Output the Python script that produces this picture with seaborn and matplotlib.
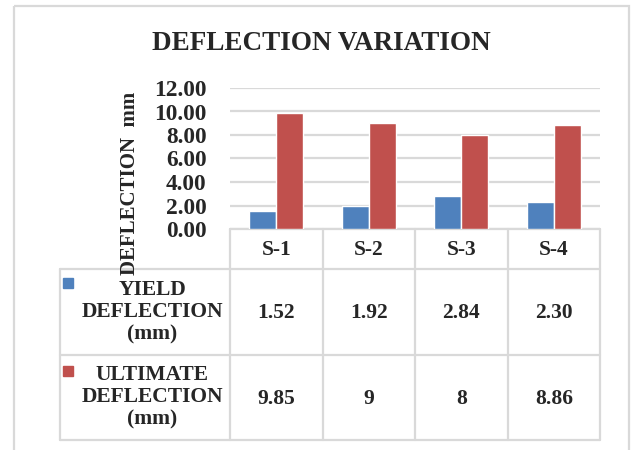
import numpy as np
import pandas as pd
import seaborn as sns
import matplotlib.pyplot as plt
from matplotlib.patches import Rectangle

specimens = ["S-1", "S-2", "S-3", "S-4"]
yield_defl = [1.52, 1.92, 2.84, 2.30]
ultimate_defl = [9.85, 9, 8, 8.86]
series_names = ["YIELD\nDEFLECTION\n(mm)", "ULTIMATE\nDEFLECTION\n(mm)"]
series_colors = ["#4F81BD", "#C0504D"]
yticks = [0, 2, 4, 6, 8, 10, 12]

df = pd.DataFrame({
    "specimen": specimens * 2,
    "series": [series_names[0]] * 4 + [series_names[1]] * 4,
    "value": yield_defl + ultimate_defl,
})

sns.set_style("white")
plt.rcParams["font.family"] = ["Liberation Serif", "DejaVu Serif"]
plt.rcParams["font.weight"] = "bold"

W, H = 632, 450
fig = plt.figure(figsize=(W / 100, H / 100), dpi=100)

# pixel layout
px0, px1 = 230, 600
py_top, py_axis = 88, 229
row_edges = [229, 269, 355, 440]
tab_left = 60
grid_c = "#D9D9D9"

ov = fig.add_axes([0, 0, 1, 1], zorder=0)
ov.set_xlim(0, W)
ov.set_ylim(H, 0)
ov.axis("off")

ax = fig.add_axes([px0 / W, (H - py_axis) / H, (px1 - px0) / W, (py_axis - py_top) / H], zorder=1)
ax.patch.set_visible(False)
sns.barplot(data=df, x="specimen", y="value", hue="series", palette=series_colors,
            width=0.58, gap=0, ax=ax, legend=False, saturation=1)
ax.set_ylim(0, 12)
ax.set_xlim(-0.5, 3.5)
ax.set_yticks(yticks)
ax.set_yticklabels([f"{t:.2f}" for t in yticks], fontsize=16.8, fontweight="bold")
ax.set_xticks([])
ax.set_xlabel("")
ax.set_ylabel("")
ax.tick_params(axis="y", length=0, pad=17)
ax.yaxis.grid(True, color=grid_c, linewidth=1.6)
ax.set_axisbelow(True)
for s in ax.spines.values():
    s.set_visible(False)

# outer chart border
ov.add_patch(Rectangle((14, 6), 615, 460, fill=False, edgecolor=grid_c, linewidth=1.6))

# title and y label
ov.text(321, 43, "DEFLECTION VARIATION", ha="center", va="center", fontsize=19.5, fontweight="bold")
ov.text(130, 183, "DEFLECTION  mm", rotation=90, ha="center", va="center", fontsize=15, fontweight="bold")

# data table
col_w = (px1 - px0) / len(specimens)
col_x = [px0 + i * col_w for i in range(len(specimens) + 1)]
lw = 1.6
ov.plot([px0, px1], [row_edges[0]] * 2, color=grid_c, lw=lw)
for y in row_edges[1:]:
    ov.plot([tab_left, px1], [y, y], color=grid_c, lw=lw)
for x in col_x:
    ov.plot([x, x], [row_edges[0], row_edges[-1]], color=grid_c, lw=lw)
ov.plot([tab_left, tab_left], [row_edges[1], row_edges[-1]], color=grid_c, lw=lw)

for i, name in enumerate(specimens):
    ov.text(col_x[i] + col_w / 2, 250, name, ha="center", va="center", fontsize=15.5, fontweight="bold")

rows = [[f"{v:.2f}" for v in yield_defl], [f"{v:g}" for v in ultimate_defl]]
for r, (name, color, vals) in enumerate(zip(series_names, series_colors, rows)):
    yc = (row_edges[r + 1] + row_edges[r + 2]) / 2
    ov.text(152, yc, name, ha="center", va="center", fontsize=15.5, fontweight="bold", linespacing=1.15)
    ky = yc - 29 if r == 0 else yc - 27
    ov.add_patch(Rectangle((63, ky - 5), 10, 10, color=color))
    for i, v in enumerate(vals):
        ov.text(col_x[i] + col_w / 2, yc + 1, v, ha="center", va="center", fontsize=15.5, fontweight="bold")

fig.savefig("out.png", dpi=100)
